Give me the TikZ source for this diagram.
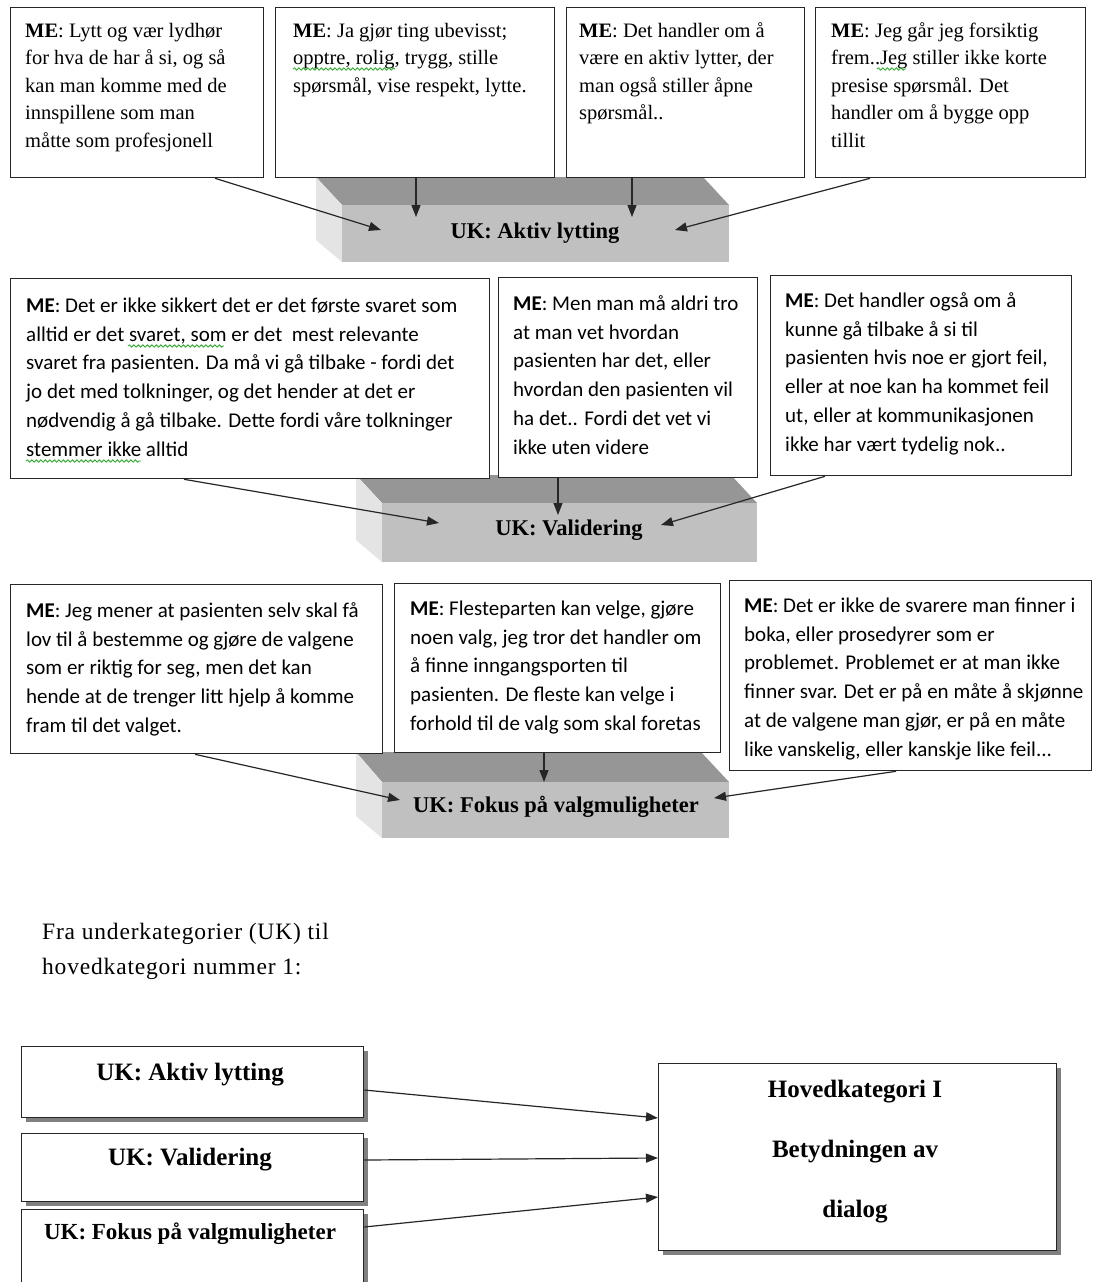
\documentclass[tikz,border=0pt]{standalone}
\usepackage{fontspec}
\setmainfont{Liberation Serif}
\newfontfamily\carl{Carlito}
\usetikzlibrary{arrows.meta,shadows,calc,decorations.pathmorphing}
\definecolor{wavegreen}{RGB}{40,170,40}
\definecolor{bevtopc}{RGB}{150,150,150}
\definecolor{bevleftc}{RGB}{228,228,228}
\definecolor{bevfrontc}{RGB}{192,192,192}
\tikzset{
  mebox/.style={draw=black!85, line width=1.3pt, fill=white, anchor=north west, inner sep=0pt},
  toptext/.style={anchor=north west, inner sep=0pt, align=left, font=\fontsize{20.5}{27.5}\selectfont},
  caltext/.style={anchor=north west, inner sep=0pt, align=left, font=\carl\fontsize{21}{28.8}\selectfont},
  conn/.style={line width=1.2pt, draw=black!85, -{Triangle[length=12pt,width=9pt]}},
  bevfront/.style={fill=bevfrontc, anchor=north west, inner sep=0pt},
  bevlabel/.style={font=\bfseries\fontsize{22.5}{26}\selectfont, inner sep=0pt},
  ukbox/.style={draw=black!85, line width=1.3pt, fill=white, anchor=north west, inner sep=0pt,
    drop shadow={shadow xshift=4pt, shadow yshift=-4pt, fill=black!50, opacity=1}},
  uklabel/.style={font=\bfseries\fontsize{25}{30}\selectfont, inner sep=0pt},
  spell/.style={draw=wavegreen, line width=0.8pt, decorate, decoration={snake, amplitude=1.2pt, segment length=4.5pt}},
}
\begin{document}
\begin{tikzpicture}[x=1pt,y=-1pt]
\clip (0,0) rectangle (1093,1282);
\fill[white] (0,0) rectangle (1093,1282);

% ---------- bevel shapes ----------
% bevel 1
\fill[bevtopc] (316,177) -- (703,177) -- (729,205) -- (342,205) -- cycle;
\fill[bevleftc] (316,177) -- (342,205) -- (342,262) -- (316,240) -- cycle;
\node[bevfront, minimum width=387pt, minimum height=57pt] (v1) at (342,205) {};
\node[bevlabel] (v1t) at (535,233) {UK: Aktiv lytting};
% bevel 2
\fill[bevtopc] (356,475) -- (731,475) -- (757,503) -- (382,503) -- cycle;
\fill[bevleftc] (356,475) -- (382,503) -- (382,562) -- (356,540) -- cycle;
\node[bevfront, minimum width=375pt, minimum height=59pt] (v2) at (382,503) {};
\node[bevlabel] (v2t) at (569,530) {UK: Validering};
% bevel 3
\fill[bevtopc] (356,752) -- (701,752) -- (729,782) -- (382,782) -- cycle;
\fill[bevleftc] (356,752) -- (382,782) -- (382,838) -- (356,816) -- cycle;
\node[bevfront, minimum width=347pt, minimum height=56pt] (v3) at (382,782) {};
\node[bevlabel] (v3t) at (556,807) {UK: Fokus på valgmuligheter};

% ---------- top row ----------
\node[mebox, minimum width=253pt, minimum height=170pt] (b1) at (10,7) {};
\node[mebox, minimum width=279pt, minimum height=170pt] (b2) at (275,7) {};
\node[mebox, minimum width=238pt, minimum height=170pt] (b3) at (566,7) {};
\node[mebox, minimum width=270pt, minimum height=170pt] (b4) at (815,7) {};
\node[toptext] (t1) at (25,18) {\strut\textbf{ME}: Lytt og vær lydhør\\for hva de har å si, og så\\kan man komme med de\\innspillene som man\\måtte som profesjonell};
\node[toptext] (t2) at (293,18) {\strut\textbf{ME}: Ja gjør ting ubevisst;\\opptre, rolig, trygg, stille\\spørsmål, vise respekt, lytte.};
\node[toptext] (t3) at (579,18) {\strut\textbf{ME}: Det handler om å\\være en aktiv lytter, der\\man også stiller åpne\\spørsmål..};
\node[toptext] (t4) at (831,18) {\strut\textbf{ME}: Jeg går jeg forsiktig\\frem..Jeg stiller ikke korte\\presise spørsmål. Det\\handler om å bygge opp\\tillit};
\draw[spell] (293,69) -- (395,69);
\draw[spell] (877,69) -- (906,69);

% ---------- middle row ----------
\node[mebox, minimum width=479pt, minimum height=200pt] (b5) at (10,278) {};
\node[mebox, minimum width=259pt, minimum height=200pt] (b6) at (498,277) {};
\node[mebox, minimum width=301pt, minimum height=200pt] (b7) at (770,275) {};
\node[caltext] (t5) at (26,292) {\strut\textbf{ME}: Det er ikke sikkert det er det første svaret som\\alltid er det svaret, som er det\ \ mest relevante\\svaret fra pasienten. Da må vi gå tilbake - fordi det\\jo det med tolkninger, og det hender at det er\\nødvendig å gå tilbake. Dette fordi våre tolkninger\\stemmer ikke alltid};
\node[caltext] (t6) at (513,290) {\strut\textbf{ME}: Men man må aldri tro\\at man vet hvordan\\pasienten har det, eller\\hvordan den pasienten vil\\ha det.. Fordi det vet vi\\ikke uten videre};
\node[caltext] (t7) at (785,287) {\strut\textbf{ME}: Det handler også om å\\kunne gå tilbake å si til\\pasienten hvis noe er gjort feil,\\eller at noe kan ha kommet feil\\ut, eller at kommunikasjonen\\ikke har vært tydelig nok..};
\draw[spell] (128,346) -- (224,346);
\draw[spell] (26,461) -- (141,461);

% ---------- bottom row ----------
\node[mebox, minimum width=372pt, minimum height=169pt] (b8) at (10,584) {};
\node[mebox, minimum width=326pt, minimum height=169pt] (b9) at (394,583) {};
\node[mebox, minimum width=362pt, minimum height=190pt] (b10) at (729,580) {};
\node[caltext] (t8) at (26,597) {\strut\textbf{ME}: Jeg mener at pasienten selv skal få\\lov til å bestemme og gjøre de valgene\\som er riktig for seg, men det kan\\hende at de trenger litt hjelp å komme\\fram til det valget.};
\node[caltext] (t9) at (410,595) {\strut\textbf{ME}: Flesteparten kan velge, gjøre\\noen valg, jeg tror det handler om\\å finne inngangsporten til\\pasienten. De fleste kan velge i\\forhold til de valg som skal foretas};
\node[caltext] (t10) at (744,592) {\strut\textbf{ME}: Det er ikke de svarere man finner i\\boka, eller prosedyrer som er\\problemet. Problemet er at man ikke\\finner svar. Det er på en måte å skjønne\\at de valgene man gjør, er på en måte\\like vanskelig, eller kanskje like feil...};

% ---------- arrows upper part ----------
\coordinate (e1) at (381,230);
\coordinate (e2) at (416,217);
\coordinate (e3) at (632,217);
\coordinate (e4) at (675,230);
\draw[conn] ($(b1.south west)+(205,0)$) -- (e1);
\draw[conn] (b2.south -| e2) -- (e2);
\draw[conn] (b3.south -| e3) -- (e3);
\draw[conn] ($(b4.south west)+(55,0)$) -- (e4);
\coordinate (e5) at (439,523);
\coordinate (e6) at (558,515);
\coordinate (e7) at (661,525);
\draw[conn] ($(b5.south west)+(174,0)$) -- (e5);
\draw[conn] (b6.south -| e6) -- (e6);
\draw[conn] ($(b7.south west)+(55,0)$) -- (e7);
\coordinate (e8) at (400,800);
\coordinate (e9) at (544,782);
\coordinate (e10) at (714,798);
\draw[conn] ($(b8.south west)+(185,0)$) -- (e8);
\draw[conn] (b9.south -| e9) -- (e9);
\draw[conn] ($(b10.south west)+(167,0)$) -- (e10);

% ---------- caption ----------
\node[anchor=north west, inner sep=0pt, align=left, font=\fontsize{23.5}{35}\selectfont\addfontfeatures{LetterSpace=3.5}] (cap) at (42,915) {\strut Fra underkategorier (UK) til\\hovedkategori nummer 1:};

% ---------- lower diagram ----------
\node[ukbox, minimum width=342pt, minimum height=71pt] (ua) at (21,1046) {};
\node[ukbox, minimum width=342pt, minimum height=68pt] (ub) at (21,1133) {};
\node[ukbox, minimum width=342pt, minimum height=100pt] (uc) at (21,1209) {};
\node[ukbox, minimum width=398pt, minimum height=187pt] (hk) at (658,1063) {};
\node[uklabel] (uat) at (190,1075) {UK: Aktiv lytting};
\node[uklabel] (ubt) at (190,1160) {UK: Validering};
\node[uklabel, font=\bfseries\fontsize{23}{28}\selectfont] (uct) at (190,1234) {UK: Fokus på valgmuligheter};
\node[uklabel] (hk1) at (855,1092) {Hovedkategori I};
\node[uklabel] (hk2) at (855,1152) {Betydningen av};
\node[uklabel] (hk3) at (855,1212) {dialog};
\draw[conn] (ua.east |- 0,1090) -- (hk.west |- 0,1118);
\draw[conn] (ub.east |- 0,1160) -- (hk.west |- 0,1158);
\draw[conn] (uc.east |- 0,1227) -- (hk.west |- 0,1197);
\end{tikzpicture}
\end{document}
